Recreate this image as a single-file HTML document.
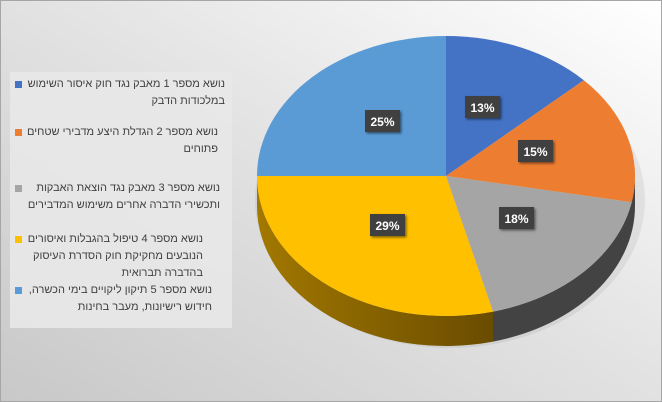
<!DOCTYPE html>
<html><head><meta charset="utf-8"><style>
html,body{margin:0;padding:0;}
body{width:662px;height:402px;overflow:hidden;position:relative;}
svg{position:absolute;left:0;top:0;}
svg text{font-family:"Liberation Sans",sans-serif;}
.lb{font-size:12px;font-weight:bold;fill:#fff;}
.lg{position:absolute;direction:rtl;text-align:right;font-family:"Liberation Sans","DejaVu Sans",sans-serif;font-size:11px;line-height:17px;color:#404040;white-space:nowrap;}
</style></head><body>
<svg width="662" height="402" viewBox="0 0 662 402" xmlns="http://www.w3.org/2000/svg">
<defs>
<linearGradient id="bg" x1="1" y1="0" x2="0" y2="1">
<stop offset="0" stop-color="#ffffff"/><stop offset="0.45" stop-color="#e4e4e4"/><stop offset="1" stop-color="#c8c8c8"/>
</linearGradient>
<linearGradient id="ys" x1="0" y1="0" x2="1" y2="0">
<stop offset="0" stop-color="#a27800"/><stop offset="1" stop-color="#6a4c00"/>
</linearGradient>
<filter id="sh" x="-20%" y="-20%" width="150%" height="150%"><feDropShadow dx="1.5" dy="1.5" stdDeviation="1.2" flood-color="#000" flood-opacity="0.5"/></filter>
</defs>
<rect x="0" y="0" width="662" height="402" fill="url(#bg)"/>
<rect x="0.5" y="0.5" width="661" height="401" fill="none" stroke="#a6a6a6"/>
<rect x="10" y="72" width="222" height="256" fill="#e8e8e8" opacity="0.9"/>
<ellipse cx="450" cy="200" rx="195" ry="148" fill="#000" opacity="0.06"/>
<path d="M635,176 A189,140 0 0 1 493,311.6 L493,341.6 A189,140 0 0 0 635,206 Z" fill="#434343"/>
<path d="M493,311.6 A189,140 0 0 1 257,176 L257,206 A189,140 0 0 0 493,341.6 Z" fill="url(#ys)"/>
<path d="M446,176 L446,36 A189,140 0 0 1 583.8,80.2 Z" fill="#4472c4"/>
<path d="M446,176 L583.8,80.2 A189,140 0 0 1 631.7,202.2 Z" fill="#ed7d31"/>
<path d="M446,176 L631.7,202.2 A189,140 0 0 1 493,311.6 Z" fill="#a5a5a5"/>
<path d="M446,176 L493,311.6 A189,140 0 0 1 257,176 Z" fill="#ffc000"/>
<path d="M446,176 L257,176 A189,140 0 0 1 446,36 Z" fill="#5b9bd5"/>
<g filter="url(#sh)" fill="#404040">
<rect x="465" y="96" width="35" height="22"/>
<rect x="518" y="140" width="35" height="22"/>
<rect x="499" y="207" width="35" height="22"/>
<rect x="370" y="214" width="35" height="22"/>
<rect x="365" y="110" width="35" height="22"/>
</g>
<g text-anchor="middle">
<text x="482.5" y="112" class="lb">13%</text>
<text x="535.5" y="156" class="lb">15%</text>
<text x="516.5" y="223" class="lb">18%</text>
<text x="387.5" y="230" class="lb">29%</text>
<text x="382.5" y="126" class="lb">25%</text>
</g>
<rect x="15" y="81" width="7" height="7" fill="#4472c4"/>
<rect x="15" y="129" width="7" height="7" fill="#ed7d31"/>
<rect x="15" y="185" width="7" height="7" fill="#a5a5a5"/>
<rect x="15" y="236" width="7" height="7" fill="#ffc000"/>
<rect x="15" y="287" width="7" height="7" fill="#5b9bd5"/>
</svg>
<div class="lg" style="right:437px;top:76px;">נושא מספר 1 מאבק נגד חוק איסור השימוש<br>במלכודות הדבק</div>
<div class="lg" style="right:444px;top:124px;">נושא מספר 2 הגדלת היצע מדבירי שטחים<br>פתוחים</div>
<div class="lg" style="right:442px;top:180px;">נושא מספר 3 מאבק נגד הוצאת האבקות<br>ותכשירי הדברה אחרים משימוש המדבירים</div>
<div class="lg" style="right:459px;top:231px;">נושא מספר 4 טיפול בהגבלות ואיסורים<br>הנובעים מחקיקת חוק הסדרת העיסוק<br>בהדברה תברואית</div>
<div class="lg" style="right:450px;top:282px;">נושא מספר 5 תיקון ליקויים בימי הכשרה,<br>חידוש רישיונות, מעבר בחינות</div>
</body></html>
